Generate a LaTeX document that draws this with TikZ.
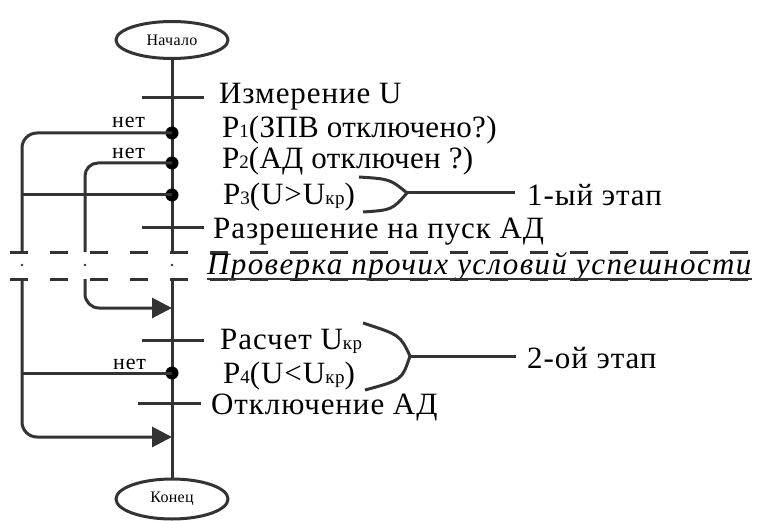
\documentclass[tikz,border=0pt]{standalone}
\usepackage{fontspec}
\setmainfont{Liberation Serif}
\usetikzlibrary{arrows.meta,shapes.geometric}
\definecolor{ln}{HTML}{333333}
\newcommand{\sm}[1]{{\fontsize{19}{19}\selectfont #1}}
\tikzset{
  x=1pt, y=-1pt,
  wire/.style={draw=ln, line width=3pt},
  term/.style={ellipse, draw=ln, line width=3pt, minimum width=112pt, minimum height=37pt, inner sep=0pt, font=\fontsize{16}{16}\selectfont\addfontfeature{LetterSpace=2}},
  lbl/.style={anchor=base west, inner sep=0pt, font=\fontsize{31}{31}\selectfont\addfontfeature{LetterSpace=3}},
  lbltight/.style={lbl, font=\fontsize{31}{31}\selectfont\addfontfeature{LetterSpace=1}},
  nolbl/.style={anchor=base west, inner sep=0pt, font=\fontsize{22}{22}\selectfont\addfontfeature{LetterSpace=4}},
  jdot/.style={circle, fill=black, inner sep=0pt, minimum size=13pt},
  arr/.style={-{Triangle[length=20pt,width=20pt]}},
  sepline/.style={draw=ln, line width=3pt, dash pattern=on 18pt off 22pt},
}
\begin{document}
\begin{tikzpicture}
\useasboundingbox[fill=white] (0,0) rectangle (762,521);
% terminals
\node[term] (start) at (172,40) {Начало};
\node[term, minimum height=40pt] (end) at (172,499) {Конец};
% main line
\coordinate (m1) at (172,252);
\coordinate (m2) at (172,279);
\draw[wire] (start.south) -- (m1);
\draw[wire] (m2) -- (end.north);
% separator lines
\coordinate (s1l) at (10,252); \coordinate (s1r) at (762,252);
\coordinate (s2l) at (10,279); \coordinate (s2r) at (762,279);
\draw[sepline] (s1l) -- (s1r);
\draw[sepline] (s2l) -- (s2r);
\foreach \xx in {22,85,172} \fill[ln] (\xx,265) circle (1.3pt);
% junction dots
\node[jdot] (d1) at (172,133) {};
\node[jdot] (d2) at (172,163) {};
\node[jdot] (d3) at (172,195) {};
\node[jdot] (d4) at (172,373) {};
% loop coordinates
\coordinate (o1) at (22,133);
\coordinate (o2) at (22,252);
\coordinate (o3) at (22,195);
\coordinate (o4) at (22,279);
\coordinate (o5) at (22,373);
\coordinate (o6) at (22,437);
\coordinate (a2) at (172,437);
\coordinate (i1) at (85,163);
\coordinate (i2) at (85,252);
\coordinate (i3) at (85,279);
\coordinate (i4) at (85,308);
\coordinate (a1) at (172,308);
\draw[wire, rounded corners=15pt] (d1.center) -- (o1) -- (o2);
\draw[wire, arr, rounded corners=15pt] (o4) -- (o6) -- (a2);
\draw[wire, rounded corners=13pt] (d2.center) -- (i1) -- (i2);
\draw[wire, arr, rounded corners=14pt] (i3) -- (i4) -- (a1);
\draw[wire] (o3) -- (d3.center);
\draw[wire] (o5) -- (d4.center);
% ticks
\coordinate (t1l) at (142,98); \coordinate (t1r) at (204,98);
\coordinate (t2l) at (142,228); \coordinate (t2r) at (204,228);
\coordinate (t3l) at (142,340); \coordinate (t3r) at (204,340);
\coordinate (t4l) at (138,403); \coordinate (t4r) at (201,403);
\draw[wire] (t1l) -- (t1r);
\draw[wire] (t2l) -- (t2r);
\draw[wire] (t3l) -- (t3r);
\draw[wire] (t4l) -- (t4r);
% labels
\node[lbl] (l1) at (219,104) {Измерение U};
\node[lbltight] (l2) at (222,138) {P\sm{1}(ЗПВ отключено?)};
\node[lbltight] (l3) at (222,169) {P\sm{2}(АД отключен ?)};
\node[lbl] (l4) at (223,205) {P\sm{3}(U>U\sm{кр})};
\node[lbl] (l5) at (213,238) {Разрешение на пуск АД};
\node[lbl, font=\fontsize{31}{31}\selectfont\itshape\addfontfeature{LetterSpace=4.5}] (l6) at (207,274) {Проверка прочих условий успешности};
\draw[ln, line width=2pt] ([yshift=-5pt]l6.base west) -- ([yshift=-5pt]l6.base east);
\node[lbl] (l7) at (220,349) {Расчет U\sm{кр}};
\node[lbl] (l8) at (223,383) {P\sm{4}(U<U\sm{кр})};
\node[lbl] (l9) at (211,414) {Отключение АД};
\node[nolbl] (n1) at (112,128) {нет};
\node[nolbl] (n2) at (112,159) {нет};
\node[nolbl] (n4) at (113,369) {нет};
% stage gates
\coordinate (g1) at (407,193);
\coordinate (g1u) at (359,177);
\coordinate (g1d) at (363,212);
\coordinate (g1e) at (515,193);
\draw[wire] (g1u) .. controls (390,179) .. (g1);
\draw[wire] (g1d) .. controls (392,210) .. (g1);
\draw[wire] (g1) -- (g1e);
\node[lbl, anchor=west] (st1) at (527,195) {1-ый этап};
\coordinate (g2) at (410,356);
\coordinate (g2u) at (363,323);
\coordinate (g2d) at (365,390);
\coordinate (g2e) at (516,356);
\draw[wire] (g2u) .. controls (400,335) .. (g2);
\draw[wire] (g2d) .. controls (402,380) .. (g2);
\draw[wire] (g2) -- (g2e);
\node[lbl, anchor=west] (st2) at (527,358) {2-ой этап};
\end{tikzpicture}
\end{document}
